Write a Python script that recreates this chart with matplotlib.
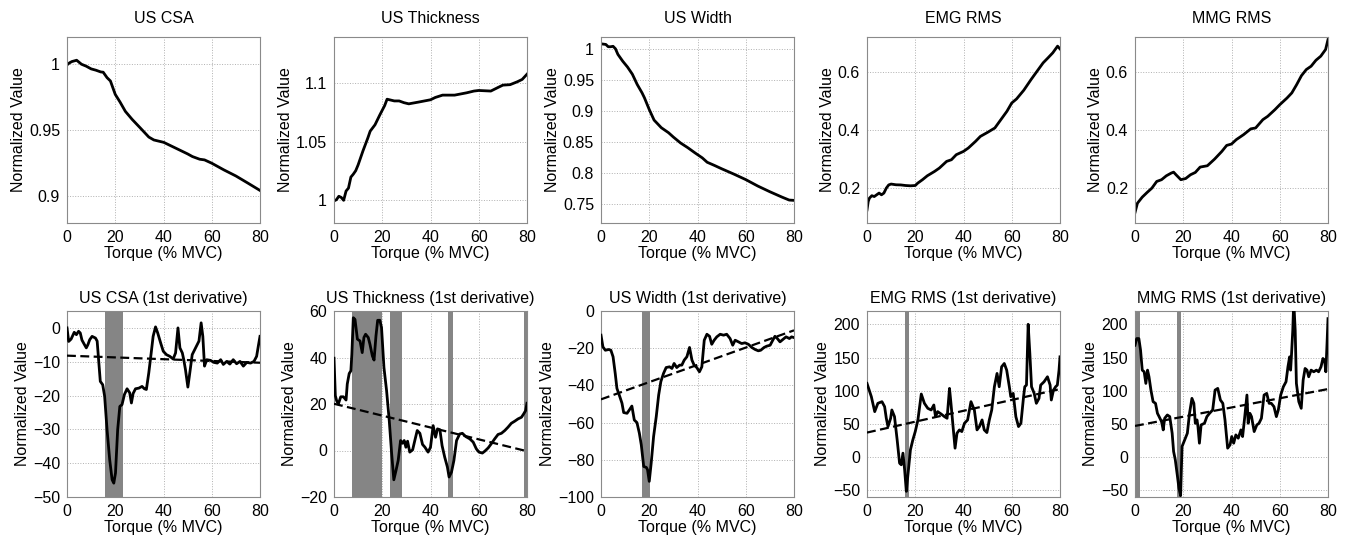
import matplotlib
matplotlib.use("Agg")
import matplotlib.pyplot as plt

plt.rcParams['font.family'] = ['Liberation Sans', 'DejaVu Sans']

# ---------------- Top row: normalized values ----------------
csa_x = [0, 1, 2, 4, 6, 8, 10, 12, 14, 15, 16.6, 18, 20, 22, 24.2, 27, 30.4, 33.9, 36, 40.1, 45, 50, 52, 55, 57, 60, 65, 70, 75, 80]
csa_y = [0.999, 1.0005, 1.0015, 1.0025, 0.9995, 0.998, 0.996, 0.995, 0.9937, 0.9935, 0.9894, 0.9869, 0.9768, 0.971, 0.964, 0.958, 0.9515, 0.9447, 0.9425, 0.9407, 0.9364, 0.932, 0.930, 0.928, 0.9275, 0.925, 0.920, 0.9154, 0.910, 0.9045]

thk_x = [0, 1, 2, 3, 4, 5, 6, 7, 8, 9, 10, 12, 14, 15, 17, 19, 21, 22, 23, 25, 27, 29, 31, 35, 40, 42, 45, 50, 55, 58, 60, 65, 68, 70, 73, 76, 78, 80]
thk_y = [0.999, 1.0, 1.003, 1.002, 0.9995, 1.0075, 1.010, 1.0195, 1.022, 1.025, 1.030, 1.042, 1.053, 1.059, 1.0645, 1.073, 1.081, 1.0865, 1.086, 1.085, 1.085, 1.0835, 1.0825, 1.084, 1.086, 1.088, 1.090, 1.090, 1.092, 1.0935, 1.094, 1.0935, 1.0966, 1.0986, 1.099, 1.1015, 1.1035, 1.108]

wid_x = [0, 2, 3, 4, 5, 6, 7, 9, 11, 13, 15, 17, 18, 20, 22, 25, 28, 30, 33, 36, 39, 42, 44, 47, 50, 55, 60, 65, 70, 75, 78, 80]
wid_y = [1.009, 1.008, 1.0043, 1.0043, 1.005, 1.001, 0.992, 0.981, 0.9715, 0.960, 0.9435, 0.930, 0.922, 0.903, 0.886, 0.8737, 0.8656, 0.8586, 0.849, 0.8414, 0.833, 0.825, 0.818, 0.8129, 0.8075, 0.799, 0.790, 0.7796, 0.7704, 0.7618, 0.757, 0.7565]

emg_x = [0, 0.5, 1, 2, 3, 4, 5, 6, 7, 8, 9, 10, 12, 14, 16, 18, 20, 21, 23, 25, 28, 30, 33, 35, 37, 40, 42, 45, 47, 50, 53, 55, 58, 60, 62, 65, 68, 70, 73, 75, 77, 79, 80]
emg_y = [0.125, 0.154, 0.1655, 0.174, 0.171, 0.177, 0.183, 0.177, 0.183, 0.200, 0.211, 0.214, 0.2115, 0.211, 0.209, 0.208, 0.209, 0.217, 0.229, 0.2425, 0.2575, 0.269, 0.292, 0.2977, 0.315, 0.3264, 0.338, 0.361, 0.378, 0.392, 0.407, 0.430, 0.4644, 0.493, 0.507, 0.537, 0.5736, 0.5966, 0.631, 0.648, 0.6655, 0.6885, 0.679]

mmg_x = [0, 1, 3, 5, 7, 9, 11, 13, 15, 16, 17, 19, 21, 23, 25, 27, 30, 33, 36, 38, 40, 42, 45, 48, 50, 53, 55, 58, 60, 63, 65, 67, 69, 71, 73, 75, 77, 79, 80]
mmg_y = [0.116, 0.148, 0.169, 0.185, 0.200, 0.223, 0.229, 0.2425, 0.2517, 0.255, 0.246, 0.229, 0.233, 0.246, 0.254, 0.2724, 0.277, 0.300, 0.3264, 0.347, 0.3517, 0.367, 0.384, 0.404, 0.407, 0.4356, 0.447, 0.470, 0.487, 0.510, 0.5276, 0.556, 0.587, 0.608, 0.6195, 0.640, 0.654, 0.677, 0.711]

# ---------------- Bottom row: first derivatives ----------------
dcsa_x = [0, 0.7, 1.7, 3, 3.9, 4.8, 5.5, 6.2, 7.2, 8, 8.7, 9.4, 10.4, 11.8, 12.5, 13.1, 13.8, 14.8, 15.6, 16.6, 17.7, 18.7, 19.4, 20.1, 21, 21.9, 22.8, 23.8, 24.9, 26, 26.7, 27.4, 28.4, 29.8, 31.1, 32.1, 32.9, 33.9, 34.9, 35.7, 36.7, 37.6, 38.8, 39.9, 41.2, 42.6, 44, 45, 46, 46.8, 47.8, 48.4, 49.1, 50.1, 50.9, 51.9, 53.3, 54.7, 55.6, 56.3, 57, 57.9, 59.5, 60.9, 62.3, 63.7, 64.8, 66.2, 67.5, 68.9, 70.3, 71.7, 73.1, 74.5, 76.1, 77.5, 78.6, 79.3, 80]
dcsa_y = [0, -4, -3.3, -1.3, -2, -1, -1.5, -3.6, -4.9, -5.9, -4.9, -3.5, -2.5, -3, -3.9, -9.4, -15.8, -16.8, -20.2, -30.1, -39, -44.9, -45.9, -42.9, -30.1, -23.2, -22.7, -19.7, -18, -19.2, -22.2, -19.4, -18, -17.8, -17.3, -18, -18.2, -13.3, -7.4, -2.5, 0.3, -1.5, -4.4, -6.9, -7.9, -8.4, -9.2, -7.4, 0, -5.9, -7.4, -9.4, -12.3, -17.5, -13.3, -7.9, -5.9, -3.9, 1.5, -2.5, -11.3, -9.4, -9.6, -10.2, -10.4, -9.4, -10.8, -9.9, -10.7, -9.4, -10.6, -9.9, -11.3, -10.2, -10.4, -9.9, -8.4, -5.4, -2.5]
dcsa_fit = [-8.2, -10.3]
dcsa_spans = [(15.6, 23.3)]

dthk_x = [0, 0.55, 1.1, 1.8, 2.8, 3.9, 5, 5.5, 6.3, 7, 7.4, 8, 8.7, 9.7, 10.8, 11.7, 12.4, 13.1, 14.2, 14.9, 15.9, 16.6, 17.4, 18.1, 19, 19.7, 20.7, 21.8, 22.9, 23.9, 24.8, 25.7, 26.6, 27.6, 28.4, 29.1, 29.8, 30.5, 31.4, 32.6, 33.5, 34.5, 35.6, 36.7, 37.7, 39, 40, 41.1, 42.1, 42.9, 43.9, 44.8, 45.9, 47, 47.7, 48.7, 49.7, 50.8, 52.1, 53.2, 54.6, 56.3, 57.7, 59, 60.1, 61.5, 62.5, 63.9, 65.2, 66.6, 68, 69.4, 70.8, 72.1, 73.5, 74.9, 76.3, 77.7, 78.6, 79.4, 80]
dthk_y = [39.7, 23.6, 21.4, 20, 23.1, 23.1, 21.7, 28.6, 33.1, 34.3, 41.4, 57.1, 56.4, 47.9, 47.1, 42.1, 48.6, 50, 48.6, 45.7, 40.7, 38.9, 49.3, 56, 56, 52.9, 35.7, 25.7, 12.9, -1.4, -12.6, -8.6, -4.3, 4.3, 3.1, 4.3, 1.4, 4, -0.7, 0.3, 4.3, 8.6, 7.4, 2.6, 1.4, -0.7, 1.4, 10.7, 5.7, 9.3, 8.9, 2.1, -2.9, -7.1, -11.4, -9.3, -4.3, 4.3, 7.1, 7.4, 6, 5, 3.6, 0.7, -0.7, -1.1, -0.3, 1.1, 2.9, 5, 6.9, 7.4, 8.6, 10, 11.7, 12.6, 13.6, 14.3, 15.7, 17.1, 20.3]
dthk_fit = [20.1, -0.3]
dthk_spans = [(7.4, 20.1), (23.4, 28.3), (47.3, 49.2), (78.6, 80)]

dwid_x = [0, 0.8, 1.8, 3.2, 4.1, 5, 5.9, 6.6, 7.7, 8.7, 9.4, 10.8, 11.9, 12.8, 13.8, 14.9, 15.9, 16.7, 17.7, 18.8, 19.3, 20, 20.8, 21.8, 22.9, 23.9, 24.8, 25.9, 27, 28.4, 29.4, 30.3, 31.4, 32.6, 33.5, 34.5, 35.6, 36.7, 37.7, 38.6, 39.7, 40.8, 41.8, 42.8, 43.9, 45, 45.9, 46.9, 48, 49.4, 50.8, 52.1, 53.5, 54.6, 55.6, 57, 58.3, 59.7, 61.1, 62.5, 63.9, 65.2, 66.2, 67.6, 68.7, 70.1, 71.2, 72.1, 73.1, 74.2, 75.3, 76.7, 78.1, 79, 80]
dwid_y = [-13, -19.3, -21.1, -20.7, -21.1, -24.6, -33.6, -41.6, -45.7, -49.6, -54.6, -55, -52.9, -51.1, -58.6, -60, -65.7, -72, -83.6, -84.1, -85.4, -91.6, -81.8, -67.5, -56.8, -45.2, -38, -33.6, -30.4, -30, -30.9, -28.2, -30.4, -29.1, -29.1, -26.4, -24.6, -19.6, -26.4, -29.1, -30.4, -32.7, -30, -15.7, -12.5, -13.6, -17.9, -15.7, -13.9, -12.5, -13, -12.5, -14.8, -18.4, -15.7, -16.6, -17.5, -17.1, -17.9, -19.6, -20.7, -21.4, -21.1, -19.6, -18.9, -18.4, -15.7, -13.6, -14.8, -16.6, -15.4, -13.9, -14.8, -13.9, -14.3]
dwid_fit = [-47.5, -10.4]
dwid_spans = [(17.2, 20.3)]

demg_x = [0, 1.8, 3.2, 4.5, 6.2, 7.3, 8, 8.7, 9.8, 10.3, 11.4, 12.5, 13.5, 14.2, 14.9, 15.6, 16.3, 16.9, 18, 19, 20, 21.1, 22.5, 23.8, 25.2, 26.6, 27.7, 28.4, 29.3, 30.7, 32.1, 33.2, 34.2, 34.8, 35.8, 36.5, 37.3, 38.3, 39.3, 40.4, 41.7, 43.1, 44.5, 45.6, 46.6, 47.7, 48.6, 49.7, 50.7, 51.7, 52.8, 53.9, 54.8, 55.8, 56.9, 57.9, 59, 59.6, 60.6, 61.7, 62.8, 63.8, 64.9, 65.4, 66.1, 66.8, 67.5, 68.2, 69.3, 70.2, 71.3, 72, 73.4, 74.8, 75.9, 76.4, 77.3, 78.2, 78.9, 79.6, 80]
demg_y = [111, 91, 68.5, 81, 83.5, 76, 58.5, 46, 58.5, 71, 61, 26, -9, -11.5, 6, -19, -51.5, -29, 11, 26, 38.5, 56, 95, 81, 73.5, 71, 78.5, 61, 68.5, 65, 61, 58.5, 103.5, 81, 41, 13.5, 36, 41, 38.5, 51, 56, 83.5, 71, 41, 46, 56, 41, 37, 56, 71, 106, 126, 106, 136, 141, 131, 106, 91, 96, 61, 46, 51, 91, 106, 108.5, 200, 156, 106, 96, 81, 88.5, 108.5, 113.5, 121, 108.5, 86, 101, 106, 108.5, 131, 151]
demg_fit = [37, 102.5]
demg_spans = [(15.6, 17.5)]

dmmg_x = [0, 0.7, 1.6, 2.3, 3, 3.8, 4.5, 5.2, 5.8, 6.6, 7.5, 8.5, 9.3, 10, 11, 11.7, 12.3, 13.4, 14.4, 15.4, 16, 16.7, 17.6, 18.2, 18.9, 19.5, 20.6, 21.7, 22.6, 23.6, 24.4, 25, 25.7, 26.1, 26.7, 27.4, 28.8, 29.8, 30.9, 32.2, 33.2, 34.3, 35.4, 36.4, 37.3, 38.4, 39.4, 40.1, 40.9, 41.8, 42.8, 43.9, 44.6, 45.5, 46.4, 46.9, 47.6, 48.3, 49.4, 50.5, 51.4, 52.4, 53.5, 54.6, 55.6, 56.5, 57.6, 58.6, 59.4, 60.4, 61.5, 62.6, 63.4, 64.1, 64.5, 64.9, 65.4, 65.8, 66.4, 66.9, 67.9, 68.9, 69.7, 70.5, 71.3, 72, 73, 74.1, 75.2, 76.1, 77.1, 77.9, 78.6, 79.1, 79.6, 80]
dmmg_y = [168.5, 178.5, 178.5, 161, 131, 128.5, 111, 131, 121, 101, 83.5, 81, 66, 61, 53.5, 41, 58.5, 63.5, 61, 36, 8.5, -4, -29, -46.5, -58, 16, 26, 36, 66, 88.5, 81, 51, 56, 46, 21, 48.5, 51, 61, 66, 71, 101, 103.5, 86, 81, 56, 13.5, 18.5, 31, 21, 33.5, 28.5, 41, 31, 61, 93.5, 51, 66, 61, 38.5, 48.5, 51, 58.5, 93.5, 96, 81, 81, 76, 61, 71, 93.5, 106, 113.5, 136, 151, 131, 156, 191, 235, 191, 111, 83.5, 73.5, 116, 133.5, 131, 121, 131, 128.5, 131, 128.5, 136, 148.5, 146, 128.5, 171, 208.5]
dmmg_fit = [47, 102.5]
dmmg_spans = [(0, 2.2), (17.3, 19.2)]

titles_top = ["US CSA", "US Thickness", "US Width", "EMG RMS", "MMG RMS"]
titles_bot = [t + " (1st derivative)" for t in titles_top]
xticks = [0, 20, 40, 60, 80]

top_series = [(csa_x, csa_y), (thk_x, thk_y), (wid_x, wid_y), (emg_x, emg_y), (mmg_x, mmg_y)]
top_ylims = [(0.88, 1.02), (0.98, 1.14), (0.72, 1.02), (0.08, 0.72), (0.08, 0.72)]
top_yticks = [[0.9, 0.95, 1.0], [1.0, 1.05, 1.1], [0.75, 0.8, 0.85, 0.9, 0.95, 1.0], [0.2, 0.4, 0.6], [0.2, 0.4, 0.6]]
top_ylabels = [["0.9", "0.95", "1"], ["1", "1.05", "1.1"], ["0.75", "0.8", "0.85", "0.9", "0.95", "1"], ["0.2", "0.4", "0.6"], ["0.2", "0.4", "0.6"]]

bot_series = [(dcsa_x, dcsa_y), (dthk_x, dthk_y), (dwid_x, dwid_y), (demg_x, demg_y), (dmmg_x, dmmg_y)]
bot_fits = [dcsa_fit, dthk_fit, dwid_fit, demg_fit, dmmg_fit]
bot_spans = [dcsa_spans, dthk_spans, dwid_spans, demg_spans, dmmg_spans]
bot_ylims = [(-50, 5), (-20, 60), (-100, 0), (-60, 220), (-60, 220)]
bot_yticks = [[-50, -40, -30, -20, -10, 0], [-20, 0, 20, 40, 60], [-100, -80, -60, -40, -20, 0], [-50, 0, 50, 100, 150, 200], [-50, 0, 50, 100, 150, 200]]

W, H = 1346, 537
fig = plt.figure(figsize=(W / 100, H / 100), dpi=100)
lefts = [67, 334, 601, 867, 1135]
aw, ah = 193, 186


def style(ax):
    ax.set_xlim(0, 80)
    ax.set_xticks(xticks)
    ax.grid(True, linestyle=':', color='#b0b0b0', linewidth=0.7)
    ax.set_axisbelow(True)
    ax.tick_params(direction='in', length=0, labelsize=11.5, pad=5)
    for s in ax.spines.values():
        s.set_color('#8a8a8a')
        s.set_linewidth(0.8)
    ax.set_xlabel("Torque (% MVC)", fontsize=11.5, labelpad=1)
    ax.set_ylabel("Normalized Value", fontsize=11.5, labelpad=2)


for i in range(5):
    ax = fig.add_axes([lefts[i] / W, 1 - (37 + ah) / H, aw / W, ah / H])
    x, y = top_series[i]
    ax.plot(x, y, color='black', linewidth=2.0)
    ax.set_ylim(*top_ylims[i])
    ax.set_yticks(top_yticks[i])
    ax.set_yticklabels(top_ylabels[i])
    style(ax)
    ax.set_title(titles_top[i], fontsize=11.5, pad=10)

for i in range(5):
    ax = fig.add_axes([lefts[i] / W, 1 - (311 + ah) / H, aw / W, ah / H])
    for (a, b) in bot_spans[i]:
        ax.axvspan(a, b, color='#858585', linewidth=0, zorder=1)
    x, y = bot_series[i]
    ax.plot(x, y, color='black', linewidth=2.0, zorder=3)
    ax.plot([0, 80], bot_fits[i], color='black', linewidth=1.6, linestyle=(0, (4, 2)), zorder=3)
    ax.set_ylim(*bot_ylims[i])
    ax.set_yticks(bot_yticks[i])
    style(ax)
    ax.set_title(titles_bot[i], fontsize=11.5, pad=6)

fig.savefig("out.png", dpi=100)
